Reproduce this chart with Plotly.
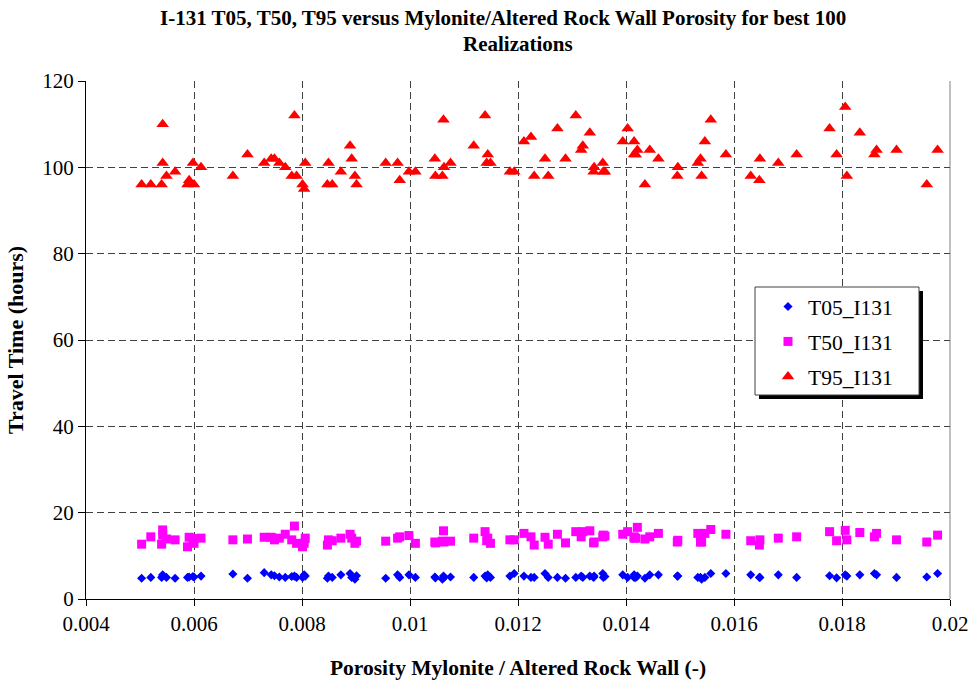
import plotly.graph_objects as go

# Porosity of the mylonite / altered rock wall for each realization
porosity = [
    0.00503, 0.00520, 0.00540, 0.00542, 0.00542, 0.00549, 0.00565, 0.00588, 0.00591, 0.00600,
    0.00598, 0.00613, 0.00672, 0.00699, 0.00730, 0.00743, 0.00749, 0.00758, 0.00769, 0.00781,
    0.00790, 0.00786, 0.00801, 0.00804, 0.00806, 0.00849, 0.00872, 0.00847, 0.00856, 0.00889,
    0.00892, 0.00898, 0.00901, 0.00955, 0.00977, 0.00981, 0.00998, 0.01010, 0.01046, 0.01047,
    0.01060, 0.01062, 0.01063, 0.01075, 0.01118, 0.01139, 0.01144, 0.01142, 0.01149, 0.01185,
    0.01193, 0.01211, 0.01224, 0.01230, 0.01250, 0.01256, 0.01273, 0.01288, 0.01307, 0.01317,
    0.01320, 0.01333, 0.01340, 0.01341, 0.01357, 0.01358, 0.01361, 0.01394, 0.01403, 0.01415,
    0.01415, 0.01418, 0.01421, 0.01435, 0.01444, 0.01460, 0.01495, 0.01496, 0.01533, 0.01538,
    0.01540, 0.01546, 0.01557, 0.01585, 0.01631, 0.01647, 0.01648, 0.01682, 0.01716, 0.01777,
    0.01790, 0.01806, 0.01809, 0.01833, 0.01860, 0.01864, 0.01901, 0.01957, 0.01977,
]

# Travel times (hours)
t95 = [
    96, 96, 96, 110, 101, 98, 99, 96, 97, 96,
    101, 100, 98, 103, 101, 102, 102, 101, 100, 98,
    98, 112, 96, 95, 101, 101, 99, 96, 96, 105,
    102, 98, 96, 101, 101, 97, 99, 99, 102, 98,
    98, 111, 100, 101, 105, 112, 103, 101, 101, 99,
    99, 106, 107, 98, 102, 98, 109, 102, 112, 104,
    105, 108, 99, 100, 101, 99, 99, 106, 109, 106,
    103, 103, 104, 96, 104, 102, 98, 100, 101, 102,
    98, 106, 111, 103, 98, 97, 102, 101, 103, 109,
    103, 114, 98, 108, 103, 104, 104, 96, 104,
]
t50 = [
    12.7, 14.4, 12.7, 16.0, 14.8, 13.9, 13.7, 12.1, 14.3, 12.9,
    14.0, 14.1, 13.7, 13.9, 14.3, 14.3, 13.7, 14.1, 15.0, 13.7,
    12.9, 16.9, 12.1, 12.9, 14.1, 13.7, 14.1, 12.5, 13.5, 15.0,
    14.1, 12.9, 13.4, 13.4, 14.1, 14.4, 14.7, 12.9, 13.2, 13.0,
    13.4, 15.8, 13.2, 13.4, 14.1, 15.6, 14.1, 13.5, 12.9, 13.7,
    13.7, 15.2, 14.4, 12.5, 14.3, 12.7, 15.0, 13.0, 15.6, 14.4,
    15.6, 15.8, 13.0, 13.2, 14.4, 14.8, 14.6, 15.0, 15.6, 14.4,
    14.1, 14.1, 16.6, 13.9, 14.4, 15.2, 13.2, 13.6, 15.2, 13.2,
    13.2, 15.2, 16.1, 15.0, 13.5, 12.5, 13.7, 14.1, 14.4, 15.6,
    13.5, 15.9, 13.7, 15.4, 14.4, 15.2, 13.7, 13.2, 14.8,
]
t05 = [
    4.8, 5.0, 5.0, 5.6, 5.3, 5.0, 4.8, 5.0, 5.1, 5.1,
    5.2, 5.3, 5.8, 4.8, 6.1, 5.6, 5.4, 5.1, 5.0, 5.2,
    5.0, 5.3, 5.0, 5.6, 5.3, 5.3, 5.6, 4.8, 5.0, 5.9,
    5.0, 4.6, 5.4, 4.8, 5.6, 5.0, 5.6, 5.0, 5.1, 4.9,
    4.6, 5.3, 5.0, 5.1, 5.0, 5.3, 5.6, 4.9, 5.0, 5.3,
    5.9, 5.3, 5.0, 5.0, 5.9, 5.0, 5.0, 4.8, 5.0, 5.3,
    5.0, 5.3, 5.0, 5.3, 5.9, 5.0, 5.2, 5.6, 5.0, 5.6,
    5.0, 5.0, 5.3, 4.8, 5.6, 5.6, 5.3, 5.3, 5.0, 5.0,
    4.6, 5.0, 5.9, 5.9, 5.6, 5.0, 5.0, 5.6, 5.0, 5.4,
    4.9, 5.6, 5.3, 5.6, 5.9, 5.6, 5.0, 5.1, 5.9,
]

x_ticks = [0.004, 0.006, 0.008, 0.010, 0.012, 0.014, 0.016, 0.018, 0.020]
x_tick_labels = ["0.004", "0.006", "0.008", "0.01", "0.012", "0.014", "0.016", "0.018", "0.02"]
y_ticks = [0, 20, 40, 60, 80, 100, 120]

FONT = "Liberation Serif, Times New Roman, serif"

fig = go.Figure()
fig.add_trace(go.Scatter(
    x=porosity, y=t05, mode="markers", name="T05_I131", legendgroup="a",
    marker=dict(symbol="diamond", size=7, color="#0000FF"),
))
fig.add_trace(go.Scatter(
    x=porosity, y=t50, mode="markers", name="T50_I131", legendgroup="b",
    marker=dict(symbol="square", size=9, color="#FF00FF"),
))
fig.add_trace(go.Scatter(
    x=porosity, y=t95, mode="markers", name="T95_I131", legendgroup="c",
    marker=dict(symbol="triangle-up", size=11, color="#FF0000"),
))

W, H = 973, 682
L, R, T, B = 86, 23, 81, 83
# plot area spans x 86..950, y 81..599
PX0, PX1, PY0, PY1 = 86, 950, 81, 599


def px_x(p):
    return (p - PX0) / (PX1 - PX0)


def px_y(p):
    return (PY1 - p) / (PY1 - PY0)


shapes = [
    # right border of the plot area
    dict(type="line", xref="paper", yref="paper", x0=1, x1=1, y0=0, y1=1,
         line=dict(color="#808080", width=1), layer="between"),
    # legend shadow
    dict(type="rect", xref="paper", yref="paper",
         x0=px_x(759), x1=px_x(923), y0=px_y(399), y1=px_y(291),
         fillcolor="black", line=dict(width=0), layer="above"),
    # legend box
    dict(type="rect", xref="paper", yref="paper",
         x0=px_x(755), x1=px_x(919), y0=px_y(395), y1=px_y(287),
         fillcolor="white", line=dict(color="#404040", width=1), layer="above"),
]

annotations = [
    dict(text="<b>I-131 T05, T50, T95 versus Mylonite/Altered Rock Wall Porosity for best 100</b>",
         xref="paper", yref="paper", x=px_x(503), y=px_y(18), showarrow=False,
         xanchor="center", yanchor="middle", font=dict(family=FONT, size=21, color="black")),
    dict(text="<b>Realizations</b>",
         xref="paper", yref="paper", x=px_x(518), y=px_y(44), showarrow=False,
         xanchor="center", yanchor="middle", font=dict(family=FONT, size=21, color="black")),
]

fig.update_layout(
    width=W, height=H,
    margin=dict(l=L, r=R, t=T, b=B, autoexpand=False),
    paper_bgcolor="white", plot_bgcolor="white",
    font=dict(family=FONT, size=21, color="black"),
    shapes=shapes,
    annotations=annotations,
    showlegend=True,
    legend=dict(
        x=px_x(768), y=px_y(286), xanchor="left", yanchor="top",
        bgcolor="rgba(0,0,0,0)", borderwidth=0,
        traceorder="grouped", tracegroupgap=4,
        font=dict(family=FONT, size=21.5, color="black"),
    ),
    xaxis=dict(
        range=[0.004, 0.020], tickvals=x_ticks, ticktext=x_tick_labels,
        showline=True, linecolor="black", linewidth=1,
        ticks="outside", ticklen=6, tickcolor="black",
        showgrid=True, gridcolor="#404040", griddash="7px,4px", gridwidth=1,
        zeroline=False, ticklabeloverflow="allow",
        title=dict(text="<b>Porosity Mylonite / Altered Rock Wall (-)</b>",
                   font=dict(family=FONT, size=21.5), standoff=24),
        tickfont=dict(family=FONT, size=21),
    ),
    yaxis=dict(
        range=[0, 120], tickvals=y_ticks,
        showline=True, linecolor="black", linewidth=1,
        ticks="outside", ticklen=7, tickcolor="black",
        showgrid=True, gridcolor="#404040", griddash="7px,4px", gridwidth=1,
        zeroline=False,
        title=dict(text="<b>Travel Time (hours)</b>",
                   font=dict(family=FONT, size=22), standoff=12),
        tickfont=dict(family=FONT, size=21),
    ),
)

fig.write_html("out.html")
